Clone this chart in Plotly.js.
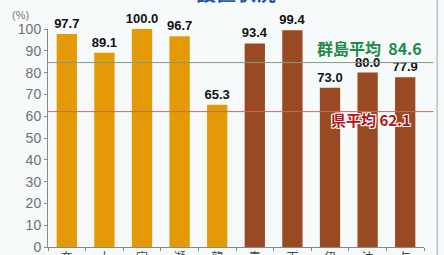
<!DOCTYPE html>
<html><head><meta charset="utf-8">
<script src="https://cdn.plot.ly/plotly-3.0.1.min.js"></script>
<style>html,body{margin:0;padding:0;background:#f7fafb}</style>
</head><body><div id="c" style="width:444px;height:255px"></div>
<script>
const categories = ["奄美市","大和村","宇検村","瀬戸内町","龍郷町","喜界町","天城町","伊仙町","沖永良部","与論町"];
const values = [97.7, 89.1, 100.0, 96.7, 65.3, 93.4, 99.4, 73.0, 80.0, 77.9];
const groupColors = ["#e39a06","#e39a06","#e39a06","#e39a06","#e39a06","#9a4a22","#9a4a22","#9a4a22","#9a4a22","#9a4a22"];
const gunAvg = 84.6, gunLabel = "群島平均";
const kenAvg = 62.1, kenLabel = "県平均";
const yTicks = [0,10,20,30,40,50,60,70,80,90,100];
const titleText = "設置状況";

const vertLabels = categories.map(s => s.split("").join("<br>"));
const trace = {
  type: "bar", x: vertLabels, y: values,
  marker: {color: groupColors},
  width: 0.54,
  text: values.map(v => v.toFixed(1)),
  textposition: "outside", cliponaxis: false, constraintext: "none",
  textfont: {family: "Liberation Sans", size: 13, color: "#111", weight: "bold"},
  hoverinfo: "none"
};
const layout = {
  width: 444, height: 255,
  margin: {l: 48, r: 20, t: 29, b: 8},
  paper_bgcolor: "#f7fafb", plot_bgcolor: "#f7fafb",
  showlegend: false, bargap: 0.46,
  font: {family: "Noto Sans CJK JP"},
  xaxis: {
    showline: true, linecolor: "#888", linewidth: 1,
    ticks: "outside", ticklen: 3, tickcolor: "#888", tickson: "boundaries",
    tickfont: {size: 12, color: "#444", family: "Noto Sans CJK JP"},
    showgrid: false, fixedrange: true, automargin: false
  },
  yaxis: {
    range: [0, 100], tickvals: yTicks, showline: true, linecolor: "#888", linewidth: 1,
    ticks: "outside", ticklen: 3, tickcolor: "#888",
    tickfont: {size: 14, color: "#707070", family: "Liberation Sans"},
    showgrid: false, zeroline: false, fixedrange: true
  },
  shapes: [
    {type: "line", xref: "paper", x0: 0, x1: 1.025, yref: "y", y0: gunAvg, y1: gunAvg,
     line: {color: "#7f9c86", width: 1}},
    {type: "line", xref: "paper", x0: 0, x1: 1.025, yref: "y", y0: kenAvg, y1: kenAvg,
     line: {color: "#c46a5e", width: 1}},
    {type: "line", xref: "paper", x0: 1.035, x1: 1.035, yref: "paper", y0: -0.1, y1: 1.2,
     line: {color: "#c8cdd0", width: 2}}
  ],
  annotations: [
    {xref: "paper", yref: "paper", x: 0.5, y: 1.09, xanchor: "center", yanchor: "bottom",
     text: "<b>" + titleText + "</b>", showarrow: false,
     font: {size: 20, color: "#1f5aa6", family: "Noto Sans CJK JP", shadow: "1px 1px 0 #fff, -1px -1px 0 #fff, 1px -1px 0 #fff, -1px 1px 0 #fff"}},
    {xref: "paper", yref: "paper", x: -0.045, y: 1.066, xanchor: "right", yanchor: "middle",
     text: "(%)", showarrow: false, font: {size: 11, color: "#777", family: "Liberation Sans"}},
    {xref: "paper", x: 1.0, yref: "y", y: gunAvg + 6.8, xanchor: "right", yanchor: "middle",
     text: "<b>" + gunLabel + "</b>  <b>" + gunAvg.toFixed(1) + "</b>", showarrow: false,
     font: {size: 16, color: "#1e8c46", family: "Noto Sans CJK JP"}},
    {xref: "paper", x: 0.972, yref: "y", y: kenAvg - 3.8, xanchor: "right", yanchor: "middle",
     text: "<b>" + kenLabel + "</b> <b>" + kenAvg.toFixed(1) + "</b>", showarrow: false,
     font: {size: 15, color: "#b5121b", family: "Noto Sans CJK JP", shadow: "1px 1px 0 #fff, -1px -1px 0 #fff, 1px -1px 0 #fff, -1px 1px 0 #fff"}}
  ]
};
Plotly.newPlot("c", [trace], layout, {displayModeBar: false, staticPlot: true});
</script></body></html>
